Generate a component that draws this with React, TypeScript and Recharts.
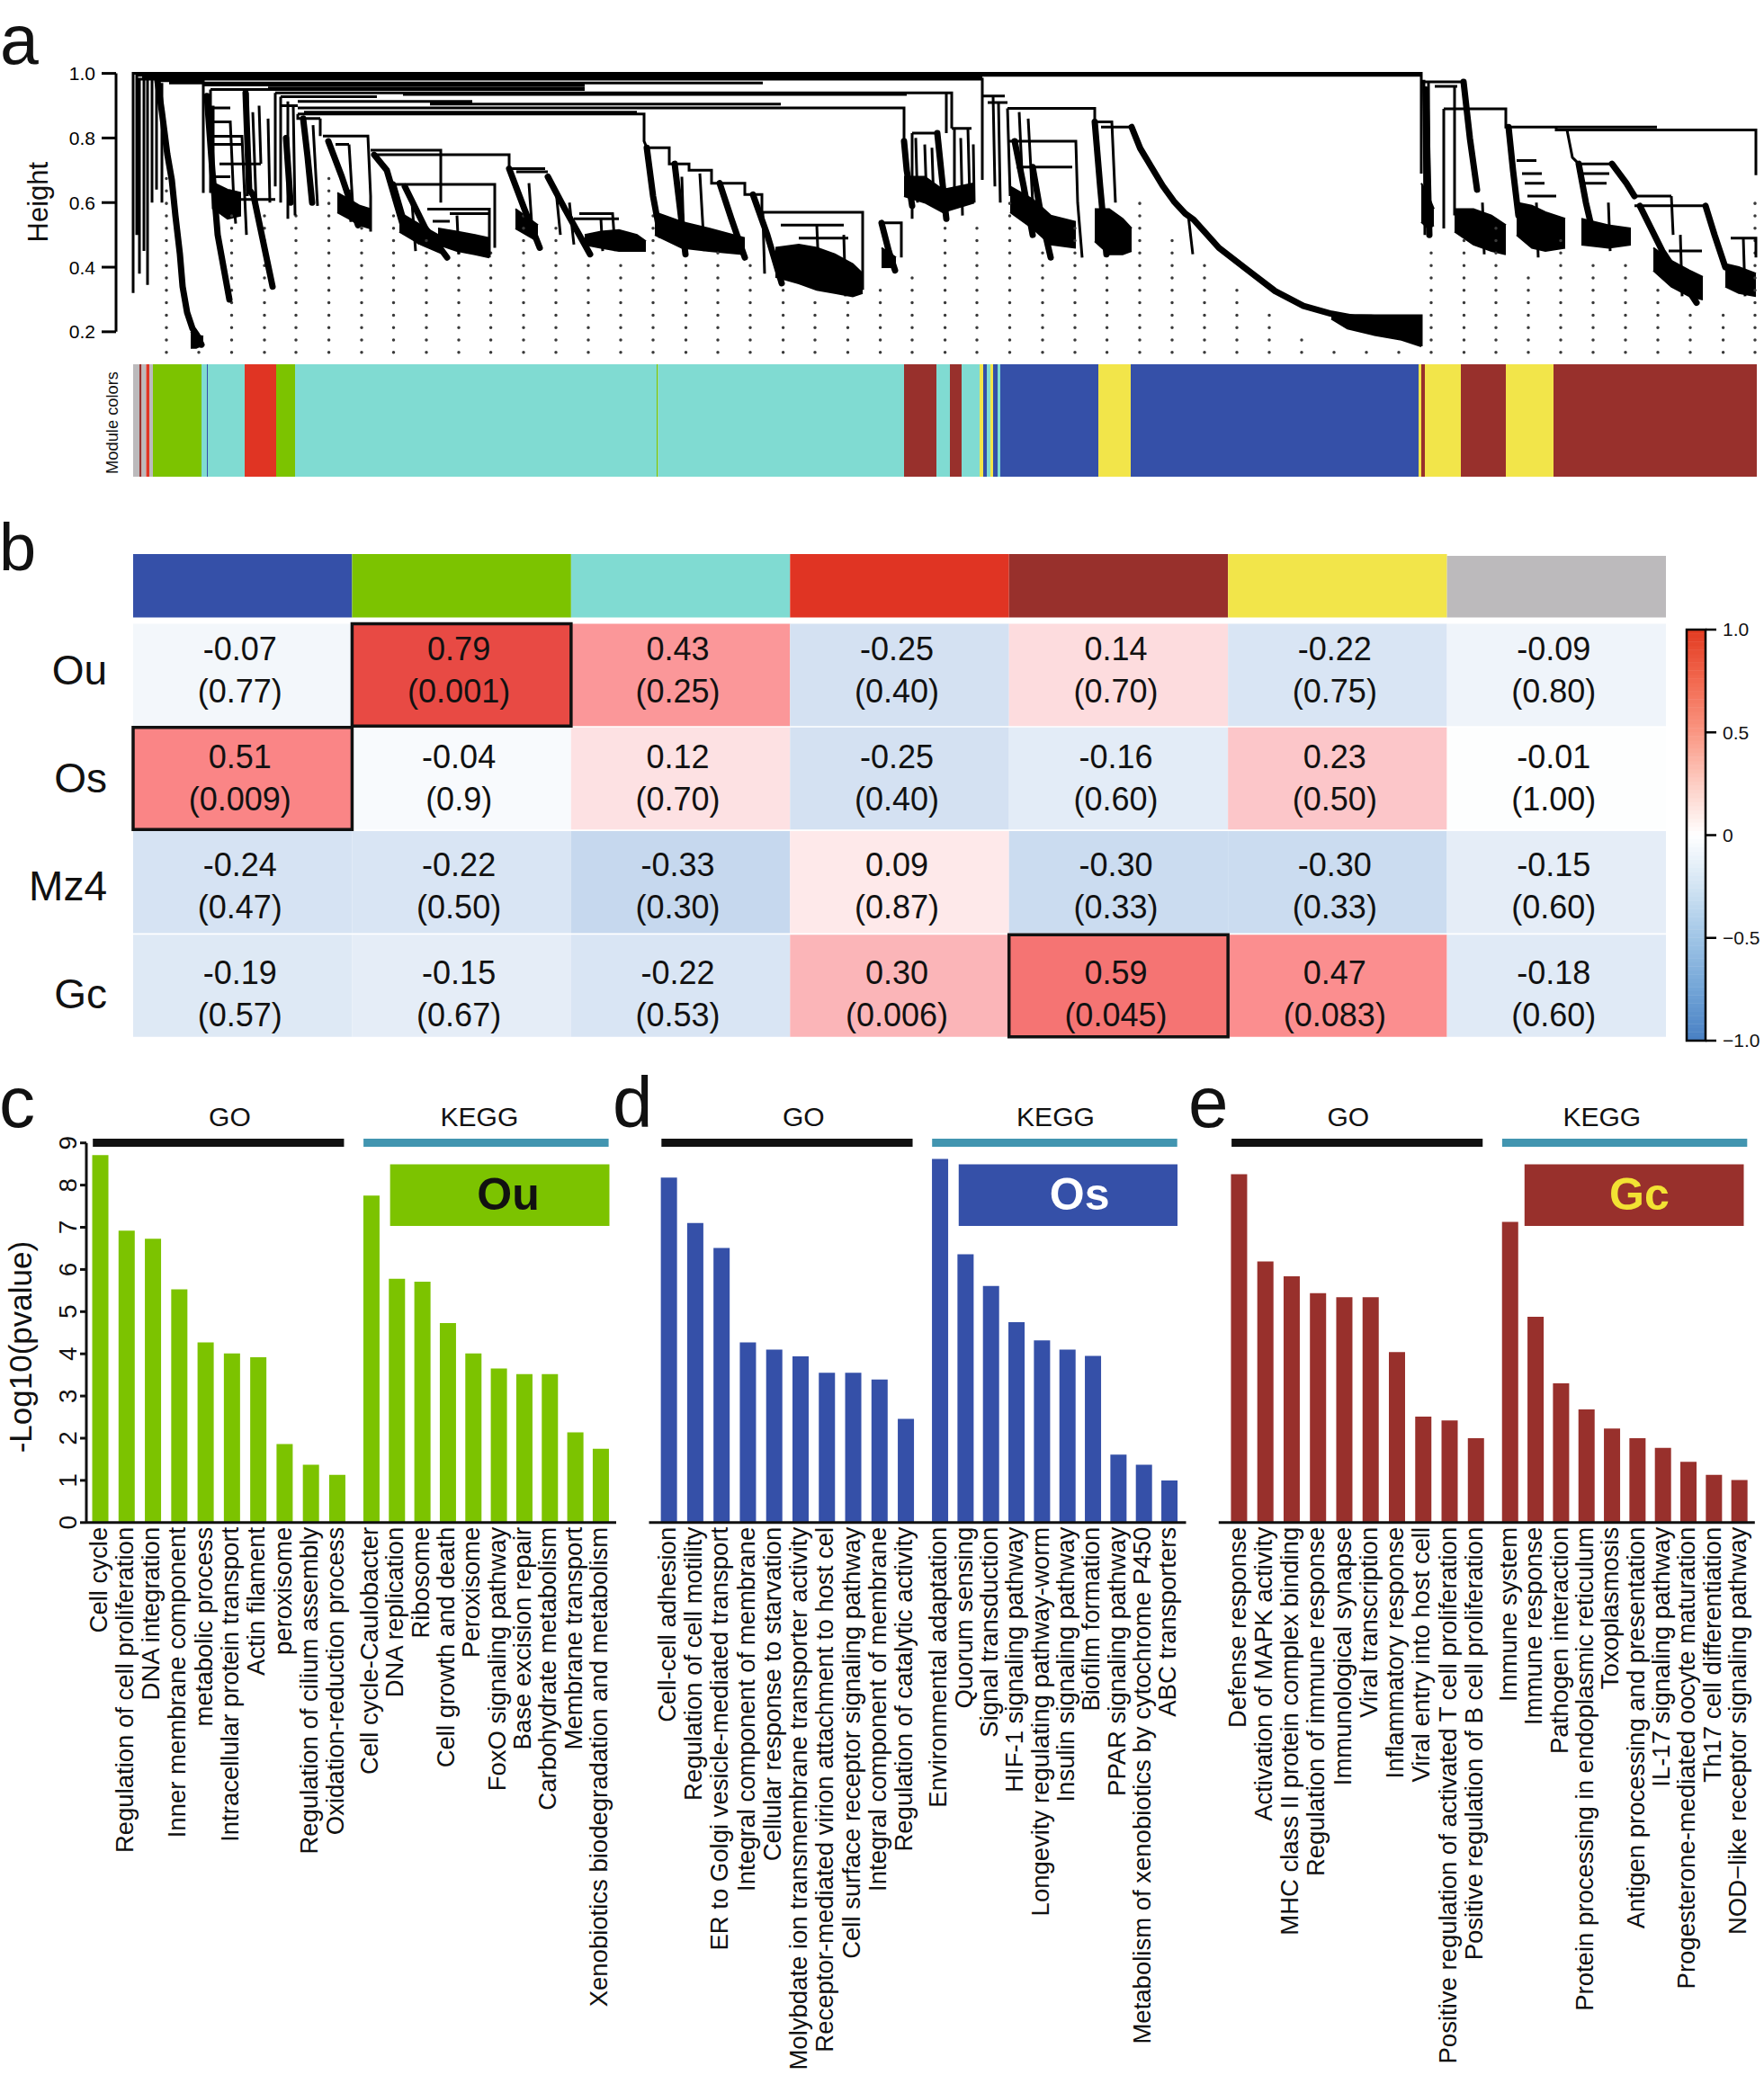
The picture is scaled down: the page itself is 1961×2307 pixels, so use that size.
import React from 'react';
import { ComposedChart, Line, Area, Bar, XAxis, YAxis, ReferenceArea, ReferenceLine } from 'recharts';

const FONT = '"Liberation Sans", Arial, Helvetica, sans-serif';

// ---------------- module colours ----------------
const MOD: Record<string, string> = {
  blue: '#3550a8',
  green: '#7cc300',
  turquoise: '#80dbd2',
  red: '#e03423',
  brown: '#98302c',
  yellow: '#f2e54a',
  grey: '#bcbabc',
};

// ---------------- panel a: dendrogram (leaf position, merge height) ----------------
const heightTicks = [0.2, 0.4, 0.6, 0.8, 1.0];

const dendroLinks: number[][] = [
  [0, 0.32, 0, 1.0, 1432, 1.0, 1432, 0.69],
  [4, 0.5, 4, 0.994, 1432, 0.994],
  [7, 0.38, 7, 0.982, 944, 0.982, 944, 0.67],
  [10, 0.986, 944, 0.986],
  [40, 0.97, 700, 0.97], [150, 0.955, 502, 0.955], [300, 0.935, 860, 0.935], [330, 0.905, 720, 0.905], [190, 0.88, 560, 0.88],
  [16, 0.345, 16, 0.99], [21, 0.6, 21, 0.99], [12, 0.45, 12, 0.985], [26, 0.64, 26, 0.98], [32, 0.6, 32, 0.97],
  [27, 0.977, 78, 0.977, 78, 0.63],
  [78, 0.964, 502, 0.964], [86, 0.95, 502, 0.95],
  [158, 0.94, 904, 0.94, 904, 0.815],
  [164, 0.928, 271, 0.928], [183, 0.913, 377, 0.913],
  [183, 0.893, 857, 0.893, 857, 0.79],
  [183, 0.874, 568, 0.874, 568, 0.79, 571, 0.77],
  [86, 0.95, 86, 0.63], [86, 0.893, 108, 0.893], [89, 0.85, 108, 0.85, 112, 0.6, 114, 0.535],
  [89, 0.805, 121, 0.805, 124, 0.62, 126, 0.5], [89, 0.78, 121, 0.78], [96, 0.72, 142, 0.72],
  [92, 0.68, 108, 0.68], [89, 0.6, 105, 0.6], [92, 0.61, 158, 0.61], [127, 0.94, 127, 0.62],
  [140, 0.9, 142, 0.72], [158, 0.94, 158, 0.65], [133, 0.88, 137, 0.58], [150, 0.86, 152, 0.6], [89, 0.9, 89, 0.58],
  [164, 0.928, 164, 0.6], [172, 0.913, 172, 0.55], [164, 0.9, 183, 0.9], [178, 0.9, 180, 0.56],
  [183, 0.874, 183, 0.86, 208, 0.86], [208, 0.86, 208, 0.806], [211, 0.806, 261, 0.806, 264, 0.62, 264, 0.51],
  [225, 0.78, 240, 0.78], [200, 0.84, 205, 0.59], [240, 0.78, 244, 0.6], [240, 0.64, 242, 0.54],
  [264, 0.762, 342, 0.762, 342, 0.6], [268, 0.748, 418, 0.748, 418, 0.705],
  [289, 0.656, 402, 0.656, 402, 0.46], [327, 0.58, 396, 0.58, 396, 0.43], [352, 0.566, 396, 0.566],
  [333, 0.542, 352, 0.542], [310, 0.6, 314, 0.45], [360, 0.56, 362, 0.44],
  [418, 0.705, 458, 0.705], [426, 0.695, 461, 0.695], [496, 0.566, 533, 0.566, 536, 0.45], [490, 0.55, 540, 0.55],
  [470, 0.64, 475, 0.5], [485, 0.6, 490, 0.47], [440, 0.66, 444, 0.5], [520, 0.55, 522, 0.45],
  [571, 0.77, 596, 0.77, 596, 0.72, 618, 0.72, 618, 0.7, 643, 0.7, 643, 0.66, 680, 0.66, 680, 0.625, 699, 0.625, 699, 0.57, 811, 0.57, 811, 0.33],
  [630, 0.69, 635, 0.45], [720, 0.53, 790, 0.53], [740, 0.49, 795, 0.49],
  [700, 0.57, 702, 0.38], [760, 0.53, 763, 0.33], [790, 0.5, 792, 0.31],
  [832, 0.537, 854, 0.537, 854, 0.43], [610, 0.68, 612, 0.5],
  [866, 0.815, 894, 0.815], [866, 0.815, 866, 0.55], [910, 0.83, 932, 0.83], [913, 0.83, 913, 0.6],
  [920, 0.8, 922, 0.56], [928, 0.83, 930, 0.62], [934, 0.78, 935, 0.6], [870, 0.8, 872, 0.6],
  [880, 0.78, 882, 0.62], [888, 0.77, 890, 0.6], [904, 0.94, 910, 0.94, 910, 0.83],
  [944, 0.93, 969, 0.93], [950, 0.91, 972, 0.91],
  [972, 0.892, 1069, 0.892, 1069, 0.85, 1088, 0.85, 1092, 0.6], [972, 0.892, 975, 0.62],
  [985, 0.88, 990, 0.58], [995, 0.86, 1000, 0.6], [972, 0.79, 1048, 0.79, 1050, 0.6, 1055, 0.43],
  [982, 0.71, 1044, 0.71], [1076, 0.834, 1110, 0.834], [1173, 0.56, 1178, 0.44],
  [1338, 0.25, 1432, 0.25, 1432, 0.155], [1380, 0.21, 1430, 0.21], [956, 0.93, 958, 0.65], [962, 0.91, 964, 0.6],
  [1432, 0.974, 1479, 0.974], [1447, 0.96, 1472, 0.96],
  [1457, 0.89, 1526, 0.89, 1526, 0.834, 1694, 0.834], [1457, 0.89, 1457, 0.52], [1469, 0.96, 1469, 0.56],
  [1582, 0.834, 1582, 0.825, 1804, 0.825, 1804, 0.685],
  [1538, 0.73, 1560, 0.73], [1544, 0.69, 1566, 0.69], [1547, 0.66, 1569, 0.66], [1550, 0.62, 1582, 0.62],
  [1594, 0.825, 1600, 0.74, 1607, 0.72, 1644, 0.72], [1607, 0.69, 1641, 0.69], [1613, 0.66, 1638, 0.66],
  [1669, 0.62, 1710, 0.62], [1669, 0.59, 1748, 0.59], [1707, 0.45, 1744, 0.45],
  [1776, 0.49, 1804, 0.49, 1804, 0.43], [1710, 0.62, 1712, 0.5], [1435, 0.98, 1436, 0.5], [1440, 0.97, 1441, 0.52],
  [1500, 0.6, 1502, 0.44], [1560, 0.6, 1562, 0.43], [1640, 0.6, 1642, 0.45], [1720, 0.5, 1722, 0.31], [1790, 0.49, 1792, 0.31],
];

const dendroBundles: number[][] = [
  [27, 0.977, 32, 0.88, 38, 0.75, 43, 0.67, 47, 0.56, 52, 0.44, 55, 0.34, 60, 0.26, 66, 0.21, 71, 0.19, 76, 0.16],
  [82, 0.93, 88, 0.7, 94, 0.5, 107, 0.3],
  [125, 0.94, 129, 0.64, 134, 0.62, 155, 0.34],
  [170, 0.8, 175, 0.6],
  [189, 0.86, 194, 0.74, 199, 0.6],
  [217, 0.79, 232, 0.68, 250, 0.53],
  [268, 0.748, 282, 0.7, 302, 0.51],
  [289, 0.656, 300, 0.55, 318, 0.48],
  [302, 0.65, 325, 0.52, 349, 0.43],
  [418, 0.705, 435, 0.58, 452, 0.46],
  [461, 0.68, 480, 0.58, 508, 0.44],
  [571, 0.77, 578, 0.62, 586, 0.5],
  [602, 0.72, 608, 0.58, 614, 0.44],
  [652, 0.66, 665, 0.55, 680, 0.43],
  [689, 0.625, 705, 0.5, 721, 0.35],
  [832, 0.537, 840, 0.45, 847, 0.39],
  [857, 0.79, 860, 0.7, 866, 0.59],
  [894, 0.815, 899, 0.68, 904, 0.55],
  [980, 0.79, 990, 0.65, 1000, 0.5],
  [1000, 0.71, 1010, 0.55, 1020, 0.43],
  [1069, 0.85, 1075, 0.65, 1082, 0.44],
  [1110, 0.834, 1119.5, 0.768, 1132, 0.71, 1144.5, 0.652, 1157, 0.604, 1169.5, 0.566, 1179, 0.547, 1207, 0.46, 1238, 0.393, 1269.5, 0.326, 1301, 0.28, 1332, 0.256, 1363, 0.24, 1394.5, 0.226, 1426, 0.21],
  [1437, 0.95, 1440, 0.6, 1441, 0.5],
  [1479, 0.974, 1486, 0.8, 1494, 0.64],
  [1529, 0.834, 1534, 0.7, 1540, 0.56],
  [1607, 0.72, 1615, 0.6, 1625, 0.48],
  [1644, 0.72, 1660, 0.66, 1669, 0.62],
  [1675, 0.59, 1700, 0.45, 1738, 0.29],
  [1748, 0.59, 1758, 0.5, 1770, 0.4],
];

// dense leaf masses: [leafPos, low, high, ...]
const dendroMasses: number[][] = [
  [64, 0.15, 0.2, 70, 0.15, 0.19, 78, 0.16, 0.185],
  [90, 0.58, 0.66, 105, 0.55, 0.64, 120, 0.56, 0.63],
  [227, 0.57, 0.63, 240, 0.55, 0.61, 252, 0.53, 0.59, 264, 0.52, 0.58],
  [296, 0.51, 0.57, 320, 0.47, 0.53, 345, 0.44, 0.49],
  [339, 0.47, 0.52, 360, 0.45, 0.51, 380, 0.44, 0.5, 396, 0.43, 0.49],
  [425, 0.52, 0.58, 450, 0.48, 0.53],
  [502, 0.47, 0.5, 520, 0.46, 0.51, 540, 0.45, 0.515, 560, 0.45, 0.5, 570, 0.45, 0.48],
  [580, 0.5, 0.57, 610, 0.46, 0.54, 640, 0.45, 0.52, 680, 0.44, 0.49],
  [714, 0.37, 0.46, 740, 0.35, 0.47, 760, 0.33, 0.46, 780, 0.32, 0.44, 800, 0.31, 0.41, 811, 0.32, 0.38],
  [832, 0.4, 0.46, 848, 0.4, 0.43],
  [857, 0.62, 0.68, 880, 0.6, 0.68, 900, 0.57, 0.64, 935, 0.6, 0.66],
  [975, 0.57, 0.65, 1000, 0.52, 0.61, 1020, 0.47, 0.56, 1048, 0.46, 0.54],
  [1069, 0.48, 0.58, 1085, 0.44, 0.58, 1100, 0.44, 0.55, 1110, 0.45, 0.52],
  [1332, 0.24, 0.256, 1350, 0.21, 0.252, 1380, 0.19, 0.25, 1410, 0.175, 0.25, 1432, 0.155, 0.25],
  [1432, 0.54, 0.66, 1440, 0.52, 0.62, 1446, 0.53, 0.58],
  [1469, 0.51, 0.58, 1490, 0.47, 0.58, 1510, 0.45, 0.56, 1526, 0.44, 0.53],
  [1538, 0.5, 0.6, 1555, 0.46, 0.59, 1570, 0.45, 0.57, 1592, 0.46, 0.55],
  [1610, 0.47, 0.55, 1640, 0.46, 0.53, 1665, 0.47, 0.52],
  [1690, 0.39, 0.46, 1710, 0.34, 0.42, 1730, 0.31, 0.39, 1745, 0.3, 0.37],
  [1770, 0.34, 0.41, 1785, 0.32, 0.4, 1804, 0.31, 0.38],
];

const guidePos = [37, 73, 109.5, 146, 181, 217.6, 254, 289.5, 326, 362, 397.6, 434, 470, 506, 542, 578, 614.5, 650, 686, 722.6,
  758, 794.5, 830.6, 866, 902.6, 938, 974.5, 1011, 1047, 1082.6, 1119, 1155, 1191, 1227, 1263, 1299, 1335, 1371, 1407, 1443,
  1479.5, 1515, 1551, 1587, 1623, 1659, 1695, 1731, 1767.6, 1803];
const guideTop = [0.68, 0.15, 0.596, 0.56, 0.57, 0.676, 0.523, 0.56, 0.485, 0.448, 0.446, 0.56, 0.523, 0.42, 0.42, 0.633,
  0.48, 0.48, 0.44, 0.364, 0.326, 0.31, 0.36, 0.4, 0.55, 0.55, 0.63, 0.48, 0.55, 0.48, 0.63, 0.518, 0.44, 0.364, 0.288,
  0.211, 0.15, 0.15, 0.15, 0.48, 0.518, 0.555, 0.4, 0.518, 0.44, 0.44, 0.364, 0.288, 0.288, 0.633];
const guideBottom = 0.136;

// module colour bar: [from, to, module]
const moduleBands: [number, number, string][] = [
  [0, 7, 'grey'], [7, 9.5, 'brown'], [9.5, 14.5, 'grey'], [14.5, 18, 'red'], [18, 22, 'grey'],
  [22, 76, 'green'], [76, 82, 'turquoise'], [82, 83, 'blue'], [83, 124, 'turquoise'], [124, 159, 'red'], [159, 180, 'green'],
  [180, 582, 'turquoise'], [582, 583.5, 'green'], [583.5, 857, 'turquoise'],
  [857, 893, 'brown'], [893, 908, 'turquoise'], [908, 921, 'brown'], [921, 941, 'turquoise'],
  [941, 945, 'yellow'], [945, 949, 'blue'], [949, 953, 'turquoise'], [953, 956, 'yellow'], [956, 961, 'blue'], [961, 964, 'turquoise'],
  [964, 1073, 'blue'], [1073, 1109, 'yellow'], [1109, 1429, 'blue'],
  [1429, 1432, 'yellow'], [1432, 1436, 'brown'], [1436, 1476, 'yellow'], [1476, 1526, 'brown'], [1526, 1579, 'yellow'], [1579, 1805, 'brown'],
];

// ---------------- panel b: module-trait heatmap ----------------
const modules = ['blue', 'green', 'turquoise', 'red', 'brown', 'yellow', 'grey'];
const traits = ['Ou', 'Os', 'Mz4', 'Gc'];
const corrOu = [-0.07, 0.79, 0.43, -0.25, 0.14, -0.22, -0.09];
const corrOs = [0.51, -0.04, 0.12, -0.25, -0.16, 0.23, -0.01];
const corrMz4 = [-0.24, -0.22, -0.33, 0.09, -0.30, -0.30, -0.15];
const corrGc = [-0.19, -0.15, -0.22, 0.30, 0.59, 0.47, -0.18];
const pOu = ['0.77', '0.001', '0.25', '0.40', '0.70', '0.75', '0.80'];
const pOs = ['0.009', '0.9', '0.70', '0.40', '0.60', '0.50', '1.00'];
const pMz4 = ['0.47', '0.50', '0.30', '0.87', '0.33', '0.33', '0.60'];
const pGc = ['0.57', '0.67', '0.53', '0.006', '0.045', '0.083', '0.60'];
const highlighted: [number, number][] = [[0, 1], [1, 0], [3, 4]];
const colorbarTicks = [-1, -0.5, 0, 0.5, 1];
const colorbarTickLabels = ['\u22121.0', '\u22120.5', '0', '0.5', '1.0'];

// ---------------- panels c, d, e: enrichment bars ----------------
const cGO = [8.71, 6.92, 6.73, 5.53, 4.27, 4.01, 3.92, 1.86, 1.37, 1.13];
const cKEGG = [7.75, 5.78, 5.71, 4.73, 4.01, 3.65, 3.52, 3.52, 2.14, 1.75];
const cLabels = ['Cell cycle', 'Regulation of cell proliferation', 'DNA integration', 'Inner membrane component', 'metabolic process',
  'Intracellular protein transport', 'Actin filament', 'peroxisome', 'Regulation of cilium assembly', 'Oxidation-reduction process',
  'Cell cycle-Caulobacter', 'DNA replication', 'Ribosome', 'Cell growth and death', 'Peroxisome', 'FoxO signaling pathway',
  'Base excision repair', 'Carbohydrate metabolism', 'Membrane transport', 'Xenobiotics biodegradation and metabolism'];

const dGO = [8.18, 7.10, 6.51, 4.27, 4.10, 3.94, 3.55, 3.55, 3.39, 2.46];
const dKEGG = [8.62, 6.36, 5.61, 4.75, 4.32, 4.10, 3.95, 1.61, 1.37, 1.00];
const dLabels = ['Cell-cell adhesion', 'Regulation of cell motility', 'ER to Golgi vesicle-mediated transport', 'Integral component of membrane',
  'Cellular response to starvation', 'Molybdate ion transmembrane transporter activity', 'Receptor-mediated virion attachment to host cel',
  'Cell surface receptor signaling pathway', 'Integral component of membrane', 'Regulation of catalytic activity',
  'Environmental adaptation', 'Quorum sensing', 'Signal transduction', 'HIF-1 signaling pathway', 'Longevity regulating pathway-worm',
  'Insulin signaling pathway', 'Biofilm formation', 'PPAR signaling pathway', 'Metabolism of xenobiotics by cytochrome P450', 'ABC transporters'];

const eGO = [8.26, 6.19, 5.84, 5.44, 5.34, 5.34, 4.04, 2.51, 2.42, 2.00];
const eKEGG = [7.13, 4.88, 3.30, 2.68, 2.23, 2.00, 1.77, 1.44, 1.13, 1.01];
const eLabels = ['Defense response', 'Activation of MAPK activity', 'MHC class II protein complex binding', 'Regulation of immune response',
  'Immunological synapse', 'Viral transcription', 'Inflammatory response', 'Viral entry into host cell',
  'Positive regulation of activated T cell proliferation', 'Positive regulation of B cell proliferation',
  'Immune system', 'Immune response', 'Pathogen interaction', 'Protein processing in endoplasmic reticulum', 'Toxoplasmosis',
  'Antigen processing and presentation', 'IL-17 signaling pathway', 'Progesterone-mediated oocyte maturation',
  'Th17 cell differentiation', 'NOD\u2212like receptor signaling pathway'];

const yTicks09 = [0, 1, 2, 3, 4, 5, 6, 7, 8, 9];

// ---------------- helpers ----------------
function toPathData(paths: number[][]) {
  const out: { x: number; y: number | null }[] = [];
  for (const p of paths) {
    for (let i = 0; i < p.length; i += 2) out.push({ x: p[i], y: p[i + 1] });
    out.push({ x: p[p.length - 2], y: null });
  }
  return out;
}
function toMassData(m: number[]) {
  const out: { x: number; r: [number, number] }[] = [];
  for (let i = 0; i < m.length; i += 3) out.push({ x: m[i], r: [m[i + 1], m[i + 2]] });
  return out;
}
function guideData() {
  const out: { x: number; y: number | null }[] = [];
  guidePos.forEach((g, k) => {
    out.push({ x: g, y: guideBottom });
    out.push({ x: g, y: guideTop[k] });
    out.push({ x: g, y: null });
  });
  return out;
}
type Stop = [number, number[]];
const cellStops: Stop[] = [[-1, [69, 117, 180]], [-0.5, [164, 196, 228]], [-0.33, [198, 216, 238]], [0, [255, 255, 255]],
  [0.3, [251, 181, 184]], [0.5, [251, 135, 136]], [0.79, [232, 74, 68]], [1, [215, 48, 39]]];
const barStops: Stop[] = [[-1, [72, 128, 195]], [-0.75, [115, 165, 215]], [-0.5, [160, 197, 230]], [-0.25, [210, 228, 243]],
  [0, [255, 255, 255]], [0.25, [253, 205, 195]], [0.5, [250, 150, 130]], [0.75, [242, 105, 80]], [1, [226, 58, 32]]];
function cmap(v: number, stops: Stop[]) {
  for (let i = 0; i < stops.length - 1; i++) {
    const [a, ca] = stops[i];
    const [b, cb] = stops[i + 1];
    if (v >= a && v <= b) {
      const t = (v - a) / (b - a);
      const c = ca.map((x, j) => Math.round(x + (cb[j] - x) * t));
      return `rgb(${c[0]},${c[1]},${c[2]})`;
    }
  }
  return '#fff';
}

// invisible anchor series so that the axes of annotation-only charts get scales
function Anchor({ x0, x1, y0, y1 }: any) {
  return (
    <Line data={[{ x: x0, y: y0 }, { x: x1, y: y1 }]} dataKey="y" stroke="none" strokeWidth={0} dot={false}
      activeDot={false} isAnimationActive={false} />
  );
}

// ---------------- panel a ----------------
function Dendrogram() {
  return (
    <div style={{ position: 'absolute', left: 0, top: 0 }}>
      <ComposedChart width={1961} height={400} margin={{ top: 81.6, right: 8, bottom: 6, left: 69 }}>
        <XAxis type="number" dataKey="x" domain={[-19, 1805]} hide />
        <YAxis type="number" domain={[0.13, 1]} ticks={heightTicks} width={60} axisLine={false} tickSize={16}
          tickLine={{ stroke: '#000', strokeWidth: 3 }} tickMargin={7} interval={0}
          tickFormatter={(v: number) => v.toFixed(1)}
          tick={{ fontSize: 21, fill: '#000', fontFamily: FONT }} />
        <ReferenceLine segment={[{ x: -19, y: 0.2 }, { x: -19, y: 1 }]} stroke="#000" strokeWidth={3} ifOverflow="visible" />
        <Line data={guideData()} dataKey="y" type="linear" stroke="#3a3a3a" strokeWidth={3.5} strokeDasharray="0.01 13.8"
          strokeLinecap="round" dot={false} activeDot={false} connectNulls={false} isAnimationActive={false} />
        {dendroMasses.map((m, i) => (
          <Area key={'m' + i} data={toMassData(m)} dataKey="r" type="linear" stroke="#000" strokeWidth={2} fill="#000"
            fillOpacity={1} dot={false} activeDot={false} isAnimationActive={false} />
        ))}
        <Line data={toPathData(dendroLinks)} dataKey="y" type="linear" stroke="#000" strokeWidth={3}
          strokeLinejoin="miter" dot={false} activeDot={false} connectNulls={false} isAnimationActive={false} />
        <Line data={toPathData(dendroBundles)} dataKey="y" type="linear" stroke="#000" strokeWidth={7}
          strokeLinejoin="round" strokeLinecap="round" dot={false} activeDot={false} connectNulls={false} isAnimationActive={false} />
      </ComposedChart>
    </div>
  );
}

function ModuleBar() {
  return (
    <div style={{ position: 'absolute', left: 0, top: 400 }}>
      <ComposedChart width={1961} height={140} margin={{ top: 5, right: 8, bottom: 10, left: 148 }}>
        <XAxis type="number" dataKey="x" domain={[0, 1805]} hide />
        <YAxis type="number" domain={[0, 1]} hide />
        {Anchor({ x0: 0, x1: 1805, y0: 0, y1: 1 })}
        {moduleBands.map(([a, b, m], i) => (
          <ReferenceArea key={i} x1={a} x2={b} y1={0} y2={1} fill={MOD[m]} fillOpacity={1} stroke="none" ifOverflow="visible" />
        ))}
      </ComposedChart>
    </div>
  );
}

// ---------------- panel b ----------------
const corrRows = [corrOu, corrOs, corrMz4, corrGc];
const pRows = [pOu, pOs, pMz4, pGc];

function CellText(props: any) {
  const { viewBox, corr, p, r } = props;
  const cx = viewBox.x + viewBox.width / 2 - 3;
  const cy = viewBox.y + viewBox.height / 2 - 6 + 4.8 * r;
  return (
    <g>
      <text x={cx} y={cy - 23.5 + 13} textAnchor="middle" fontSize={36} fill="#111" fontFamily={FONT}>{corr}</text>
      <text x={cx} y={cy + 23.5 + 13} textAnchor="middle" fontSize={36} fill="#111" fontFamily={FONT}>{p}</text>
    </g>
  );
}

function RowTick(props: any) {
  const { x, y, payload } = props;
  const r = Math.floor(payload.value);
  return (
    <text x={x} y={y - 6 + 4.8 * r + 16.5} textAnchor="end" fontSize={46} fill="#111" fontFamily={FONT}>{traits[r]}</text>
  );
}

function Heatmap() {
  const cells: any[] = [];
  const hl: any[] = [];
  corrRows.forEach((row, r) => {
    row.forEach((v, c) => {
      const isHl = highlighted.some(([hr, hc]) => hr === r && hc === c);
      const el = (
        <ReferenceArea key={`c${r}-${c}`} x1={c} x2={c + 1} y1={r + 0.007} y2={r + 0.993} fill={cmap(v, cellStops)}
          fillOpacity={1} stroke={isHl ? '#111' : 'none'} strokeWidth={isHl ? 3.5 : 0} ifOverflow="visible"
          label={<CellText corr={v.toFixed(2)} p={`(${pRows[r][c]})`} r={r} />} />
      );
      if (isHl) hl.push(el); else cells.push(el);
    });
  });
  return (
    <div style={{ position: 'absolute', left: 0, top: 580 }}>
      <ComposedChart width={1870} height={580} margin={{ top: 36, right: 18, bottom: 6.5, left: 28 }}>
        <XAxis type="number" dataKey="x" domain={[0, 7]} hide />
        <YAxis type="number" domain={[-0.667, 4]} reversed ticks={[0.5, 1.5, 2.5, 3.5]} interval={0} width={120}
          axisLine={false} tickLine={false} tickSize={0} tickMargin={29} tick={<RowTick />} />
        {Anchor({ x0: 0, x1: 7, y0: 0, y1: 4 })}
        {modules.map((m, c) => (
          <ReferenceArea key={'h' + c} x1={c} x2={c + 1} y1={m === 'grey' ? -0.65 : -0.667} y2={-0.055} fill={MOD[m]}
            fillOpacity={1} stroke="none" ifOverflow="visible" />
        ))}
        {cells}
        {hl}
      </ComposedChart>
    </div>
  );
}

function ColorBar() {
  const steps: number[] = [];
  for (let i = 0; i < 100; i++) steps.push(-1 + i * 0.02);
  return (
    <div style={{ position: 'absolute', left: 1860, top: 680 }}>
      <ComposedChart width={101} height={497} margin={{ top: 20, right: 0, bottom: 20, left: 15 }}>
        <XAxis type="number" dataKey="x" domain={[0, 1]} hide />
        <YAxis type="number" orientation="right" domain={[-1, 1]} ticks={colorbarTicks} interval={0} width={65}
          axisLine={false} tickSize={12} tickLine={{ stroke: '#000', strokeWidth: 2.5 }} tickMargin={7}
          tickFormatter={(v: number) => colorbarTickLabels[colorbarTicks.indexOf(v)]}
          tick={{ fontSize: 21, fill: '#111', fontFamily: FONT }} />
        {Anchor({ x0: 0, x1: 1, y0: -1, y1: 1 })}
        {steps.map((s, i) => (
          <ReferenceArea key={i} x1={0} x2={1} y1={s} y2={Math.min(1, s + 0.022)} fill={cmap(s + 0.01, barStops)}
            fillOpacity={1} stroke="none" ifOverflow="visible" />
        ))}
        <ReferenceArea x1={0} x2={1} y1={-1} y2={1} fill="none" fillOpacity={0} stroke="#000" strokeWidth={2.5} ifOverflow="visible" />
      </ComposedChart>
    </div>
  );
}

// ---------------- panels c/d/e ----------------
function barPositions() {
  const pos: number[] = [];
  for (let i = 0; i < 10; i++) pos.push(i);
  for (let i = 0; i < 10; i++) pos.push(10.298 + 0.968 * i);
  return pos;
}
const POS = barPositions();

const makeXTick = (labels: string[]) => (props: any) => {
  const { x, y, payload } = props;
  const i = POS.findIndex((p) => Math.abs(p - payload.value) < 1e-6);
  return (
    <text transform={`translate(${x + 7},${y}) rotate(-90)`} textAnchor="end" fontSize={27.5} fill="#111" fontFamily={FONT}>
      {i >= 0 ? labels[i] : ''}
    </text>
  );
};

function YTickRot(props: any) {
  const { x, y, payload } = props;
  return (
    <text transform={`translate(${x},${y}) rotate(-90)`} textAnchor="middle" fontSize={28} fill="#111" fontFamily={FONT}>
      {payload.value}
    </text>
  );
}

function BarPanel(props: any) {
  const { left, width, mLeft, mRight, domain, go, kegg, labels, color, showY, goC, keggC, box, boxText, boxTextColor, boxTextX } = props;
  const data = go.map((v: number, i: number) => ({ x: POS[i], v })).concat(kegg.map((v: number, i: number) => ({ x: POS[10 + i], v })));
  return (
    <div style={{ position: 'absolute', left, top: 1180 }}>
      <ComposedChart width={width} height={1127} data={data} margin={{ top: 90.7, right: mRight, bottom: 14.2, left: mLeft }}>
        <XAxis type="number" dataKey="x" domain={domain} ticks={POS} interval={0} height={600} tickSize={0} tickMargin={5}
          tickLine={false} axisLine={{ stroke: '#111', strokeWidth: 3 }} tick={makeXTick(labels)} allowDataOverflow />
        {showY ? (
          <YAxis type="number" domain={[0, 9]} ticks={yTicks09} interval={0} width={96} tickSize={7} tickMargin={4}
            axisLine={{ stroke: '#111', strokeWidth: 3 }} tickLine={{ stroke: '#111', strokeWidth: 3 }} tick={<YTickRot />} />
        ) : (
          <YAxis type="number" domain={[0, 9]} hide />
        )}
        <Bar dataKey="v" fill={color} barSize={18} isAnimationActive={false} />
        <ReferenceArea x1={-0.29} x2={9.25} y1={8.91} y2={9.1} fill="#111" fillOpacity={1} stroke="none" ifOverflow="visible" />
        <ReferenceArea x1={9.99} x2={19.3} y1={8.91} y2={9.1} fill="#4295b0" fillOpacity={1} stroke="none" ifOverflow="visible" />
        <ReferenceArea x1={goC - 1} x2={goC + 1} y1={9.4} y2={9.86} fill="none" fillOpacity={0} stroke="none" ifOverflow="visible"
          label={{ value: 'GO', position: 'center', fontSize: 30, fill: '#111', fontFamily: FONT }} />
        <ReferenceArea x1={keggC - 1.5} x2={keggC + 1.5} y1={9.4} y2={9.86} fill="none" fillOpacity={0} stroke="none" ifOverflow="visible"
          label={{ value: 'KEGG', position: 'center', fontSize: 30, fill: '#111', fontFamily: FONT }} />
        <ReferenceArea x1={box[0]} x2={box[1]} y1={7.03} y2={8.49} fill={color} fillOpacity={1} stroke="none" ifOverflow="visible" />
        <ReferenceArea x1={boxTextX - 1} x2={boxTextX + 1} y1={7.4} y2={8.2} fill="none" fillOpacity={0} stroke="none" ifOverflow="visible"
          label={{ value: boxText, position: 'center', fontSize: 50, fontWeight: 700, fill: boxTextColor, fontFamily: FONT }} />
      </ComposedChart>
    </div>
  );
}

function Overlay() {
  return (
    <svg width={1961} height={2307} style={{ position: 'absolute', left: 0, top: 0, pointerEvents: 'none' }} fontFamily={FONT}>
      <text x={0} y={71} fontSize={77} fill="#111">a</text>
      <text x={-1} y={634} fontSize={74} fill="#111">b</text>
      <text x={-1} y={1253} fontSize={80} fill="#111">c</text>
      <text x={681} y={1253} fontSize={80} fill="#111">d</text>
      <text x={1321} y={1252.7} fontSize={80} fill="#111">e</text>
      <text transform="translate(52.5,224.7) rotate(-90)" textAnchor="middle" fontSize={31} fill="#111">Height</text>
      <text transform="translate(131,470) rotate(-90)" textAnchor="middle" fontSize={18.3} fill="#111">Module colors</text>
      <text transform="translate(35,1497.6) rotate(-90)" textAnchor="middle" fontSize={35} fill="#111">-Log10(pvalue)</text>
    </svg>
  );
}

export default function App() {
  return (
    <div style={{ position: 'absolute', left: 0, top: 0, width: 1961, height: 2307, background: '#fff', overflow: 'hidden', fontFamily: FONT }}>
      <Dendrogram />
      <ModuleBar />
      <Heatmap />
      <ColorBar />
      <BarPanel left={0} width={700} mLeft={0} mRight={15} domain={[-0.536, 19.587]} go={cGO} kegg={cKEGG} labels={cLabels}
        color={MOD.green} showY goC={4.91} keggC={14.39} box={[11.0, 19.33]} boxText="Ou" boxTextColor="#111" boxTextX={15.49} />
      <BarPanel left={700} width={630} mLeft={21.5} mRight={11.5} domain={[-0.762, 19.635]} go={dGO} kegg={dKEGG} labels={dLabels}
        color={MOD.blue} showY={false} goC={5.11} keggC={14.68} box={[11.0, 19.31]} boxText="Os" boxTextColor="#fff" boxTextX={15.59} />
      <BarPanel left={1330} width={631} mLeft={24.8} mRight={10.2} domain={[-0.779, 19.59]} go={eGO} kegg={eKEGG} labels={eLabels}
        color={MOD.brown} showY={false} goC={4.14} keggC={13.78} box={[10.84, 19.17]} boxText="Gc" boxTextColor="#f2e233" boxTextX={15.2} />
      <Overlay />
    </div>
  );
}
